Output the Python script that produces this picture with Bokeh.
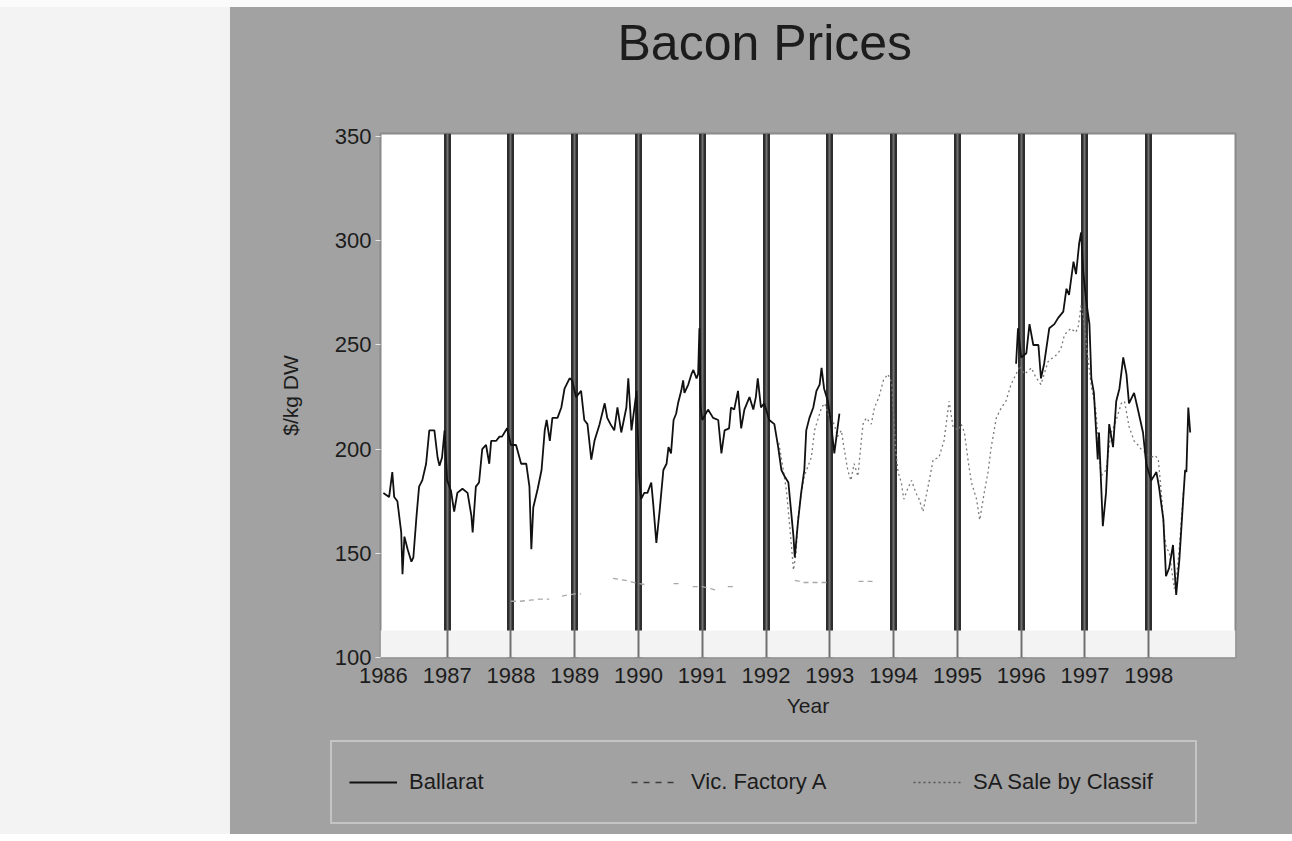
from bokeh.plotting import figure
from bokeh.models import (Range1d, FixedTicker, Grid, Legend, LegendItem,
                          BoxAnnotation, Spacer)
from bokeh.layouts import row, column
from bokeh.embed import file_html
from bokeh.resources import INLINE

nan = float("nan")

# ---------------- data ----------------
tick_years = [1986, 1987, 1988, 1989, 1990, 1991, 1992, 1993, 1994, 1995, 1996, 1997, 1998]
bar_years = [1987, 1988, 1989, 1990, 1991, 1992, 1993, 1994, 1995, 1996, 1997, 1998]
y_ticks = [100, 150, 200, 250, 300, 350]

ballarat_year = [
    1986.00, 1986.09, 1986.14, 1986.17, 1986.22, 1986.28, 1986.30, 1986.33, 1986.38, 1986.44,
    1986.47, 1986.52, 1986.56, 1986.61, 1986.67, 1986.72, 1986.80, 1986.85, 1986.88, 1986.92,
    1986.96, 1987.00, 1987.06, 1987.11, 1987.16, 1987.24, 1987.32, 1987.38, 1987.40, 1987.45,
    1987.50, 1987.55, 1987.61, 1987.66, 1987.69, 1987.77, 1987.82, 1987.86, 1987.94, 1988.00,
    1988.08, 1988.16, 1988.24, 1988.29, 1988.32, 1988.35, 1988.42, 1988.48, 1988.53, 1988.56,
    1988.61, 1988.65, 1988.73, 1988.79, 1988.84, 1988.92, 1988.96, 1989.02, 1989.10, 1989.15,
    1989.20, 1989.26, 1989.31, 1989.39, 1989.47, 1989.51, 1989.56, 1989.62, 1989.67, 1989.73,
    1989.81, 1989.84, 1989.89, 1989.97, 1990.01, 1990.04, 1990.09, 1990.14, 1990.20, 1990.23,
    1990.28, 1990.33, 1990.39, 1990.44, 1990.47, 1990.51, 1990.55, 1990.59, 1990.62, 1990.67,
    1990.70, 1990.72, 1990.78, 1990.83, 1990.86, 1990.91, 1990.935, 1990.955, 1990.975, 1991.00,
    1991.09, 1991.17, 1991.25, 1991.30, 1991.35, 1991.42, 1991.45, 1991.50, 1991.56, 1991.61,
    1991.66, 1991.74, 1991.80, 1991.84, 1991.87, 1991.92, 1991.97, 1992.05, 1992.13, 1992.19,
    1992.24, 1992.29, 1992.35, 1992.39, 1992.43, 1992.45, 1992.50, 1992.55, 1992.60, 1992.63,
    1992.68, 1992.74, 1992.79, 1992.84, 1992.87, 1992.91, 1992.97, 1993.02, 1993.07, 1993.15,
    1994.50,
    1995.92, 1995.95, 1996.00, 1996.08, 1996.13, 1996.19, 1996.27, 1996.31, 1996.36, 1996.44,
    1996.52, 1996.58, 1996.66, 1996.71, 1996.75, 1996.82, 1996.86, 1996.91, 1996.94, 1996.97,
    1997.02, 1997.07, 1997.10, 1997.14, 1997.20, 1997.22, 1997.28, 1997.33, 1997.38, 1997.44,
    1997.49, 1997.54, 1997.60, 1997.65, 1997.69, 1997.77, 1997.83, 1997.91, 1997.96, 1998.04,
    1998.12, 1998.16, 1998.23, 1998.27, 1998.32, 1998.38, 1998.43, 1998.48, 1998.54, 1998.57,
    1998.59, 1998.62, 1998.65,
]
ballarat_value = [
    179, 177, 189, 177, 175, 160, 140, 158, 152, 146,
    148, 168, 182, 185, 193, 209, 209, 196, 192, 196,
    209, 185, 180, 170, 179, 181, 179, 168, 160, 182,
    184, 200, 202, 193, 204, 204, 206, 206, 210, 202,
    202, 193, 193, 182, 152, 172, 181, 190, 209, 214,
    204, 215, 215, 220, 229, 234, 233, 225, 228, 214,
    212, 195, 204, 212, 222, 215, 212, 209, 220, 208,
    220, 234, 209, 228, 187, 176, 179, 179, 184, 174,
    155, 170, 190, 193, 201, 198, 214, 217, 222, 228,
    233, 227, 231, 236, 238, 234, 236, 258, 220, 214,
    219, 215, 214, 198, 209, 210, 220, 219, 228, 210,
    219, 225, 219, 225, 234, 220, 222, 214, 212, 201,
    190, 187, 184, 171, 158, 148, 165, 179, 190, 209,
    215, 220, 228, 231, 239, 229, 223, 212, 198, 217,
    nan,
    241, 258, 244, 246, 260, 250, 250, 234, 241, 258,
    260, 263, 266, 277, 274, 290, 284, 299, 304, 286,
    271, 260, 234, 227, 195, 208, 163, 179, 212, 201,
    223, 229, 244, 236, 222, 227, 219, 208, 193, 185,
    189, 182, 166, 139, 143, 154, 130, 147, 176, 190,
    189, 220, 208,
]

vic_year = [1988.00, 1988.15, 1988.30, 1988.45, 1988.60, 1988.70,
            1988.80, 1989.00, 1989.10, 1989.30,
            1989.60, 1989.80, 1990.00, 1990.10, 1990.30,
            1990.55, 1990.65, 1990.75,
            1990.85, 1991.00, 1991.20, 1991.30,
            1991.40, 1991.50, 1992.00,
            1992.45, 1992.60, 1992.80, 1993.00, 1993.20,
            1993.45, 1993.70]
vic_value = [127, 127, 127.5, 128, 128, nan,
             129.5, 130.5, 130.5, nan,
             138, 137, 135.5, 135, nan,
             135.5, 135.5, nan,
             134, 134, 132.5, nan,
             134, 134, nan,
             137, 136, 136, 136, nan,
             136.5, 136.5]

sa_year = [
    1992.20, 1992.26, 1992.32, 1992.38, 1992.43, 1992.47, 1992.50, 1992.55, 1992.60, 1992.66,
    1992.71, 1992.76, 1992.82, 1992.87, 1992.92, 1992.97, 1993.02, 1993.07, 1993.12, 1993.18,
    1993.22, 1993.28, 1993.33, 1993.38, 1993.44, 1993.49, 1993.52, 1993.57, 1993.65, 1993.70,
    1993.77, 1993.84, 1993.91, 1993.97, 1994.03, 1994.07, 1994.12, 1994.16, 1994.22, 1994.28,
    1994.35, 1994.40, 1994.46, 1994.54, 1994.62, 1994.71, 1994.79, 1994.87, 1994.93, 1995.01,
    1995.06, 1995.11, 1995.17, 1995.22, 1995.30, 1995.35, 1995.42, 1995.48, 1995.53, 1995.61,
    1995.69, 1995.76, 1995.84, 1995.92, 1995.98, 1996.05, 1996.16, 1996.22, 1996.31, 1996.36,
    1996.42, 1996.50, 1996.58, 1996.63, 1996.68, 1996.78, 1996.85, 1996.89, 1996.94, 1996.98,
    1997.03, 1997.10, 1997.17, 1997.25, 1997.33, 1997.41, 1997.47, 1997.52, 1997.57, 1997.62,
    1997.69, 1997.77, 1997.83, 1997.88, 1997.96, 1998.04, 1998.10, 1998.15, 1998.20, 1998.24,
    1998.28, 1998.32, 1998.36, 1998.40, 1998.44, 1998.48, 1998.51, 1998.54,
]
sa_value = [
    203, 192, 180, 160, 142, 150, 167, 178, 187, 192,
    196, 209, 215, 220, 222, 217, 214, 212, 206, 209,
    201, 190, 185, 193, 187, 203, 212, 215, 212, 220,
    225, 233, 236, 232, 200, 189, 184, 176, 181, 185,
    179, 176, 170, 182, 195, 196, 204, 223, 211, 209,
    212, 208, 194, 184, 176, 166, 179, 189, 201, 215,
    220, 223, 231, 236, 240, 236, 239, 235, 231, 236,
    242, 244, 246, 249, 255, 258, 256, 258, 269, 262,
    248, 230, 219, 187, 190, 208, 212, 217, 222, 223,
    211, 204, 202, 200, 198, 196, 197, 195, 178, 160,
    152, 151, 142, 133, 140, 153, 166, 179,
]

series_names = ["Ballarat", "Vic. Factory A", "SA Sale by Classif"]
chart_title = "Bacon Prices"

# ---------------- styling ----------------
FONT = "Liberation Sans"
TXT = "#1c1c1c"
PANEL = "#a2a2a2"
STYLE_B = dict(line_color="#111111", line_width=1.8)
STYLE_V = dict(line_color="#a8a8a8", line_width=1.3, line_dash="5 4")
STYLE_S = dict(line_color="#7a7a7a", line_width=1.3, line_dash="2 3")
# keys as they print on the grey legend strip
KEY_B = dict(line_color="#111111", line_width=2)
KEY_V = dict(line_color="#3c3c3c", line_width=1.5, line_dash="6 6")
KEY_S = dict(line_color="#555555", line_width=1.3, line_dash="2 3")


def bare(fig):
    fig.xgrid.visible = False
    fig.ygrid.visible = False


# ---------------- title strip ----------------
head = figure(width=1062, height=106, x_range=Range1d(0, 1), y_range=Range1d(0, 1),
              output_backend="svg", toolbar_location=None, frame_align=False,
              x_axis_location=None, y_axis_location=None,
              min_border_left=150, min_border_right=57,
              min_border_top=63, min_border_bottom=33,
              background_fill_color=PANEL, border_fill_color=PANEL,
              outline_line_color=None)
bare(head)
head.title.text = chart_title
head.title.align = "left"
head.title.offset = 237
head.title.text_font = FONT
head.title.text_font_size = "50px"
head.title.text_font_style = "normal"
head.title.text_color = TXT
head.title.standoff = 0

# ---------------- main chart ----------------
p = figure(width=1062, height=607,
           x_range=Range1d(1985.955, 1999.36), y_range=Range1d(100, 351.5),
           output_backend="svg", toolbar_location=None, frame_align=False,
           min_border_left=150, min_border_right=57,
           min_border_top=20, min_border_bottom=63,
           background_fill_color="white", border_fill_color=PANEL,
           outline_line_color="#8a8a8a", outline_line_width=2)

# faint band at bottom of plot area (scan shading)
p.add_layout(BoxAnnotation(bottom=100, top=113, fill_color="#f3f3f3",
                           fill_alpha=1, line_color=None, level="underlay"))

# heavy vertical year bars
p.ygrid.visible = False
p.xgrid.ticker = FixedTicker(ticks=bar_years)
p.xgrid.grid_line_color = "#2e2e2e"
p.xgrid.grid_line_width = 7
p.xgrid.grid_line_alpha = 1
p.add_layout(Grid(dimension=0, ticker=FixedTicker(ticks=bar_years),
                  grid_line_color="#707070", grid_line_width=2))

# axes
p.xaxis.ticker = FixedTicker(ticks=tick_years)
p.yaxis.ticker = FixedTicker(ticks=y_ticks)
for ax in (p.xaxis[0], p.yaxis[0]):
    ax.axis_line_color = None
    ax.minor_tick_line_color = None
    ax.major_label_text_font = FONT
    ax.major_label_text_font_size = "22px"
    ax.major_label_text_color = TXT
    ax.axis_label_text_font = FONT
    ax.axis_label_text_font_size = "21px"
    ax.axis_label_text_font_style = "normal"
    ax.axis_label_text_color = TXT
p.xaxis.major_tick_line_color = None
p.xaxis.major_label_standoff = 4
p.xaxis.axis_label = "Year"
p.xaxis.axis_label_standoff = 8
p.yaxis.major_tick_line_color = "#e8e8e8"
p.yaxis.major_tick_out = 5
p.yaxis.major_tick_in = 0
p.yaxis.major_label_standoff = 4
p.yaxis.axis_label = "$/kg DW"
p.yaxis.axis_label_standoff = 30

# series
p.line(sa_year, sa_value, **STYLE_S)
p.line(vic_year, vic_value, **STYLE_V)
p.line(ballarat_year, ballarat_value, **STYLE_B)

# ---------------- legend strip (continues the grey panel) ----------------
lg = figure(width=1062, height=114, x_range=Range1d(0, 1), y_range=Range1d(0, 1),
            output_backend="svg", toolbar_location=None, frame_align=False,
            x_axis_location=None, y_axis_location=None,
            min_border_left=100, min_border_right=92,
            min_border_top=20, min_border_bottom=6,
            background_fill_color=PANEL, border_fill_color=PANEL,
            outline_line_color=None)
bare(lg)
# legend keys, drawn outside the visible range of this strip
k_b = lg.line([0, 1], [-5, -5], **KEY_B)
k_v = lg.line([0, 1], [-5, -5], **KEY_V)
k_s = lg.line([0, 1], [-5, -5], **KEY_S)

legend = Legend(items=[LegendItem(label=series_names[0], renderers=[k_b]),
                       LegendItem(label=series_names[1], renderers=[k_v]),
                       LegendItem(label=series_names[2], renderers=[k_s])],
                orientation="horizontal", location="top_left",
                glyph_width=48, glyph_height=46, label_width=205,
                label_standoff=12, spacing=17, padding=17, margin=0,
                background_fill_alpha=0, border_line_color="#e6e6e6",
                border_line_width=2,
                label_text_font=FONT, label_text_font_size="22px",
                label_text_color=TXT)
lg.add_layout(legend)

top_gap = Spacer(width=1292, height=7, styles={"background-color": "#fbfbfb"})
left = Spacer(width=230, height=827, styles={"background-color": "#f3f3f3"})
right = column(head, p, lg, spacing=0, styles={"background-color": PANEL})
layout = column(top_gap, row(left, right, spacing=0), spacing=0)

open("out.html", "w").write(file_html(layout, INLINE))
